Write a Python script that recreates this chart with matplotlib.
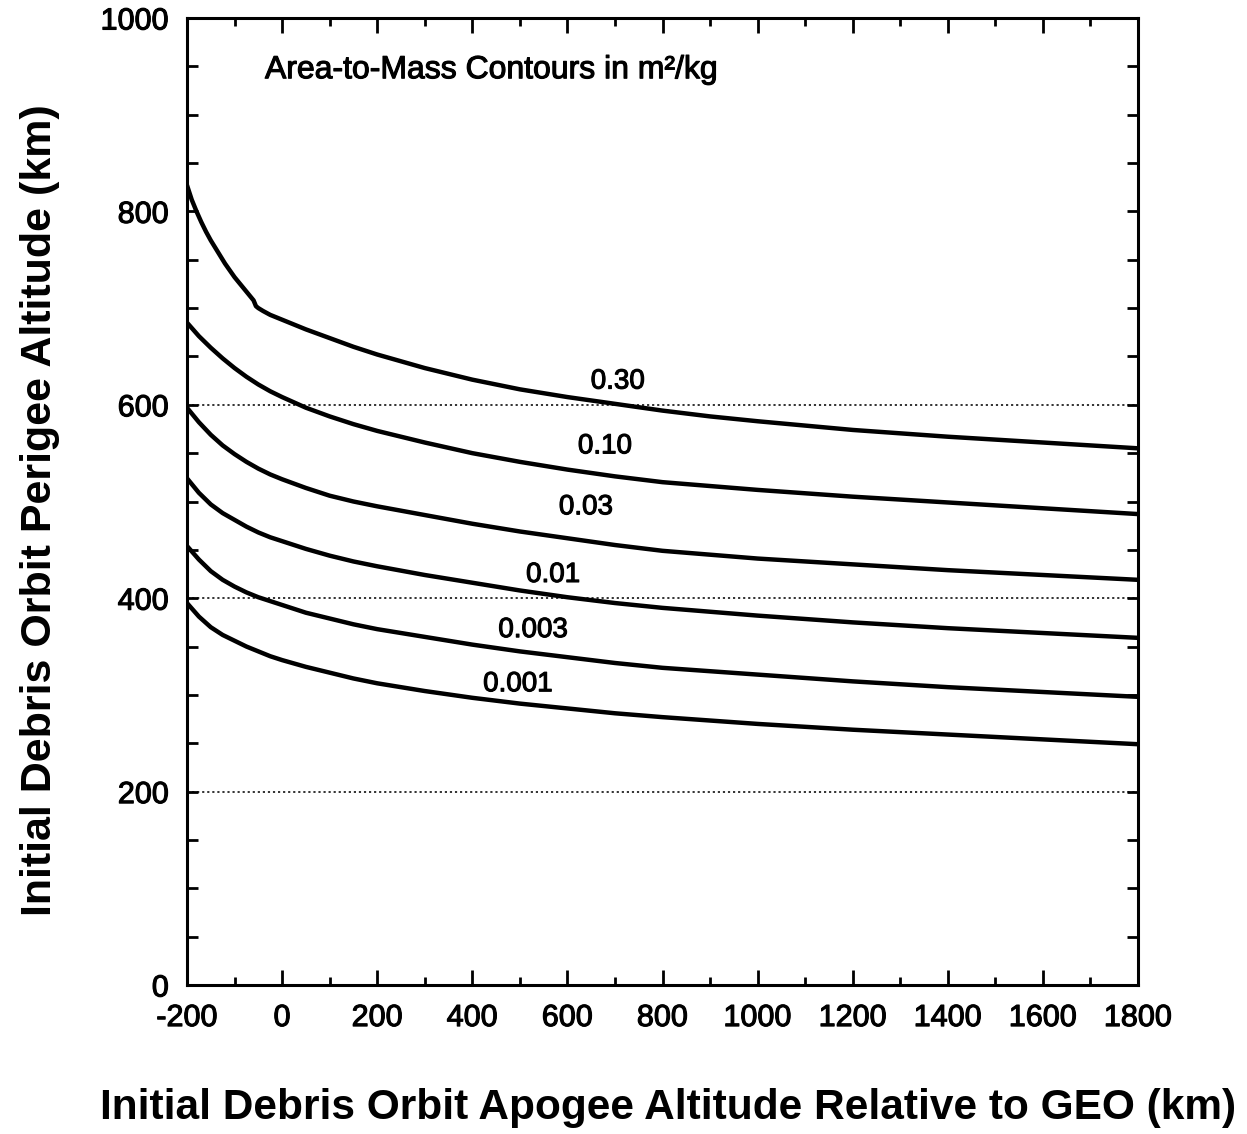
import matplotlib
matplotlib.use("Agg")
import matplotlib.pyplot as plt
import matplotlib.patheffects as pe
from matplotlib.ticker import MultipleLocator

plt.rcParams['font.family'] = ['Liberation Sans', 'DejaVu Sans']
plt.rcParams['axes.unicode_minus'] = False

# ---- data ----
apogee = [-200, -175, -150, -125, -100, -75, -50, -25, 0, 50, 100, 150, 200, 300, 400, 500,
          600, 700, 800, 1000, 1200, 1400, 1600, 1800]

# 0.30 curve read at finer spacing near the left edge (small kink near -55)
apogee_030 = [-200, -190, -180, -170, -160, -150, -140, -130, -120, -110, -100, -90, -80, -70,
              -60, -55, -50, -40, -25, 0, 50, 100, 150, 200, 300, 400, 500, 600, 700, 800, 900,
              1000, 1200, 1400, 1600, 1800]
perigee_030 = [827, 812, 800, 789, 779, 770, 762, 754, 746, 739, 732, 726, 720, 714,
               708, 702, 700, 697, 693, 688, 678, 669, 660, 652, 638, 626, 616, 608, 601, 594, 588,
               583, 574, 567, 561, 555]
perigee_010 = [685, 671, 659, 648, 638, 629, 621, 614, 608, 597, 588, 580, 573, 561, 550, 541,
               533, 526, 520, 512, 505, 499, 493, 487]
perigee_003 = [597, 582, 569, 558, 549, 541, 534, 528, 523, 514, 506, 500, 495, 486, 477, 469,
               462, 455, 449, 441, 435, 429, 424, 419]
perigee_001 = [524, 509, 497, 488, 481, 474, 468, 463, 459, 451, 444, 438, 433, 424, 416, 408,
               401, 395, 390, 382, 375, 369, 364, 359]
perigee_0003 = [454, 440, 428, 419, 412, 406, 401, 397, 393, 385, 379, 373, 368, 360, 352, 345,
                339, 333, 328, 321, 314, 308, 303, 298]
perigee_0001 = [395, 381, 370, 362, 356, 350, 345, 340, 336, 329, 323, 317, 312, 304, 297, 291,
                286, 281, 277, 270, 264, 259, 254, 249]

contour_labels = ["0.30", "0.10", "0.03", "0.01", "0.003", "0.001"]
label_x = [706, 679, 639, 570, 528, 496]
label_y = [624, 557, 494, 424, 367, 311]

grid_levels = [200, 400, 600]

x_ticks = [-200, 0, 200, 400, 600, 800, 1000, 1200, 1400, 1600, 1800]
y_ticks = [0, 200, 400, 600, 800, 1000]

heavy = [pe.withStroke(linewidth=0.8, foreground='black')]

# ---- figure ----
fig = plt.figure(figsize=(12.47, 11.34), dpi=100)
ax = fig.add_axes([187/1247, 1-985/1134, (1138-187)/1247, (985-18)/1134])

for lvl in grid_levels:
    ax.plot([-200, 1800], [lvl, lvl], color='#222222', lw=1.3, linestyle=(0, (1.2, 1.6)), zorder=1)

curves = [(apogee_030, perigee_030), (apogee, perigee_010), (apogee, perigee_003),
          (apogee, perigee_001), (apogee, perigee_0003), (apogee, perigee_0001)]
for xs, ys in curves:
    ax.plot(xs, ys, color='black', lw=3.2, solid_capstyle='round', solid_joinstyle='round', zorder=3)

for t, lx, ly in zip(contour_labels, label_x, label_y):
    ax.text(lx, ly, t, fontsize=20, ha='center', va='center', color='black', zorder=4,
            path_effects=heavy)

ax.text(0.082, 0.946, "Area-to-Mass Contours in m\u00b2/kg", transform=ax.transAxes,
        fontsize=23, ha='left', va='center', path_effects=heavy)

ax.set_xlim(-200, 1800)
ax.set_ylim(0, 1000)
ax.set_xticks(x_ticks)
ax.set_yticks(y_ticks)
ax.xaxis.set_minor_locator(MultipleLocator(100))
ax.yaxis.set_minor_locator(MultipleLocator(50))
ax.tick_params(which='both', direction='in', top=True, right=True, width=2, colors='black')
ax.tick_params(which='major', axis='x', length=11, labelsize=22, pad=13)
ax.tick_params(which='minor', axis='x', length=6)
ax.tick_params(which='major', axis='y', length=8, labelsize=22, pad=13)
ax.tick_params(which='minor', axis='y', length=8)
for lab in ax.get_xticklabels() + ax.get_yticklabels():
    lab.set_path_effects(heavy)

for sp in ax.spines.values():
    sp.set_linewidth(2.2)

ax.set_xlabel("Initial Debris Orbit Apogee Altitude Relative to GEO (km)", fontsize=30.5, fontweight='bold')
ax.xaxis.set_label_coords(0.506, -0.127)
ax.xaxis.label.set_va('center')
ax.set_ylabel("Initial Debris Orbit Perigee Altitude (km)", fontsize=31, fontweight='bold')
ax.yaxis.set_label_coords(-0.155, 0.491)
ax.yaxis.label.set_va('center')

fig.savefig("out.png", dpi=100)
